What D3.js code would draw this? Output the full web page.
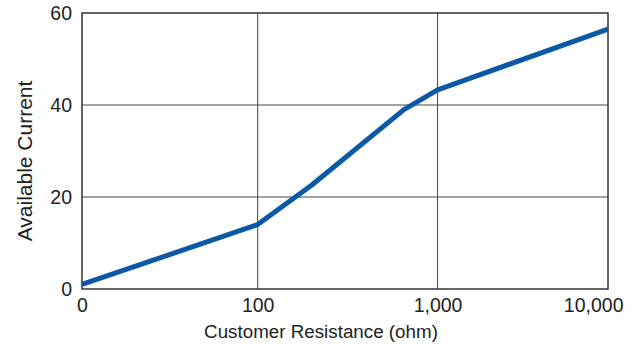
<!DOCTYPE html>
<html>
<head>
<meta charset="utf-8">
<script src="https://cdn.jsdelivr.net/npm/d3@7"></script>
<style>
  body { margin: 0; background: #fff; }
  svg text { font-family: "Liberation Sans", Arial, sans-serif; fill: #222; }
</style>
</head>
<body>
<div id="chart"></div>
<script>
// resistance (ohm) and available current
const resistance = [0, 100, 200, 650, 1000, 10000];
const current = [1, 14, 22.6, 39, 43.3, 56.5];
const xTicks = [0, 100, 1000, 10000];
const xTickLabels = ["0", "100", "1,000", "10,000"];
const yTicks = [0, 20, 40, 60];

const width = 639, height = 345;
const margin = { top: 13, right: 31, bottom: 56, left: 82 };

// position in decades: 0..100 linear, then log10 above 100
function decade(v) {
    return v <= 100 ? v / 100 : Math.log10(v) - 1;
}

let svg = d3.select("#chart")
    .append("svg")
    .attr("width", width)
    .attr("height", height);

let plotW = width - margin.left - margin.right;
let plotH = height - margin.top - margin.bottom;

let x = d3.scaleLinear()
    .domain([0, 1, 2, 3])
    .range([0, plotW * 0.334, plotW * 0.676, plotW]);
let y = d3.scaleLinear()
    .domain([0, 60])
    .range([plotH, 0]);

let g = svg.append("g")
    .attr("transform", "translate(" + margin.left + "," + margin.top + ")");

//=================================================
// grid
//=================================================
g.append("g")
    .selectAll("line")
    .data(xTicks.slice(1, -1))
    .join("line")
    .attr("x1", d => x(decade(d))).attr("x2", d => x(decade(d)))
    .attr("y1", 0).attr("y2", plotH)
    .attr("stroke", "#444").attr("stroke-width", 1);

g.append("g")
    .selectAll("line")
    .data(yTicks.slice(1, -1))
    .join("line")
    .attr("x1", 0).attr("x2", plotW)
    .attr("y1", d => y(d)).attr("y2", d => y(d))
    .attr("stroke", "#444").attr("stroke-width", 1);

g.append("rect")
    .attr("x", 0).attr("y", 0)
    .attr("width", plotW).attr("height", plotH)
    .attr("fill", "none")
    .attr("stroke", "#333").attr("stroke-width", 1.5);

//=================================================
// axes (labels only, no tick marks)
//=================================================
let axisX = g.append("g")
    .attr("transform", "translate(0," + plotH + ")")
    .call(d3.axisBottom(x)
        .tickValues(xTicks.map(decade))
        .tickFormat((d, i) => xTickLabels[i])
        .tickSize(0)
        .tickPadding(9));
axisX.select(".domain").remove();
axisX.selectAll("text").attr("font-size", 19.5).attr("font-family", null).attr("fill", "#222");
// last label is pulled in so it stays inside the page
axisX.selectAll("text")
    .filter((d, i) => i === xTicks.length - 1)
    .attr("text-anchor", "end")
    .attr("x", 15);

let axisY = g.append("g")
    .call(d3.axisLeft(y)
        .tickValues(yTicks)
        .tickSize(0)
        .tickPadding(10));
axisY.select(".domain").remove();
axisY.selectAll("text").attr("font-size", 19.5).attr("font-family", null).attr("fill", "#222");

g.append("text")
    .attr("x", plotW / 2 - 24)
    .attr("y", plotH + 49)
    .attr("text-anchor", "middle")
    .attr("font-size", 18.8)
    .text("Customer Resistance (ohm)");

g.append("text")
    .attr("transform", "translate(-50," + (plotH / 2 + 10) + ") rotate(-90)")
    .attr("text-anchor", "middle")
    .attr("font-size", 21)
    .text("Available Current");

//=================================================
// series
//=================================================
let line = d3.line()
    .x((d, i) => x(decade(resistance[i])))
    .y(d => y(d));

g.append("path")
    .datum(current)
    .attr("d", line)
    .attr("fill", "none")
    .attr("stroke", "#0b59a4")
    .attr("stroke-width", 5)
    .attr("stroke-linejoin", "round");
</script>
</body>
</html>
